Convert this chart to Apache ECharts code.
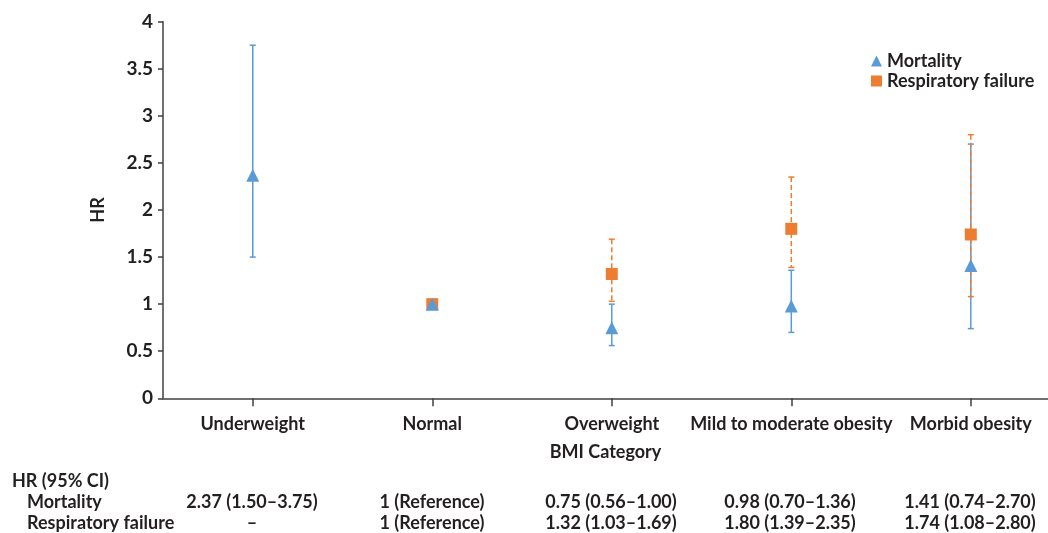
<!DOCTYPE html>
<html>
<head>
<meta charset="utf-8">
<script src="https://cdn.jsdelivr.net/npm/echarts@6/dist/echarts.min.js"></script>
<style>
  html, body { margin: 0; padding: 0; background: #fff; }
  #main { width: 1048px; height: 533px; }
</style>
</head>
<body>
<div id="main"></div>
<script>
var categories = ['Underweight', 'Normal', 'Overweight', 'Mild to moderate obesity', 'Morbid obesity'];
var mortHR   = [2.37, 1, 0.75, 0.98, 1.41];
var mortLow  = [1.50, null, 0.56, 0.70, 0.74];
var mortHigh = [3.75, null, 1.00, 1.36, 2.70];
var respHR   = [null, 1, 1.32, 1.80, 1.74];
var respLow  = [null, null, 1.03, 1.39, 1.08];
var respHigh = [null, null, 1.69, 2.35, 2.80];
var yTicks = [0, 0.5, 1, 1.5, 2, 2.5, 3, 3.5, 4];

var blue = '#5B9BD5';
var orange = '#ED7D31';
var ink = '#231F20';
var font = 'Lato';

var chart = echarts.init(document.getElementById('main'));

function points(vals) {
    var out = [];
    for (var i = 0; i < vals.length; i++) {
        if (vals[i] != null) out.push([i, vals[i]]);
    }
    return out;
}

function barData(low, high) {
    var out = [];
    for (var i = 0; i < low.length; i++) {
        if (low[i] != null) out.push([i, low[i], high[i]]);
    }
    return out;
}

function errorBar(color, dash) {
    return function (params, api) {
        var top = api.coord([api.value(0), api.value(2)]);
        var bot = api.coord([api.value(0), api.value(1)]);
        var st = { stroke: color, lineWidth: 1.5, lineDash: dash };
        var cap = { stroke: color, lineWidth: 1.5 };
        return {
            type: 'group',
            children: [
                { type: 'line', shape: { x1: top[0], y1: top[1], x2: bot[0], y2: bot[1] }, style: st },
                { type: 'line', shape: { x1: top[0] - 3, y1: top[1], x2: top[0] + 3, y2: top[1] }, style: cap },
                { type: 'line', shape: { x1: bot[0] - 3, y1: bot[1], x2: bot[0] + 3, y2: bot[1] }, style: cap }
            ]
        };
    };
}

function fmt(hr, lo, hi) {
    if (hr == null) return '–';
    if (lo == null) return hr + ' (Reference)';
    return hr.toFixed(2) + ' (' + lo.toFixed(2) + '–' + hi.toFixed(2) + ')';
}

// table under the chart
var colX = [252, 432, 611, 790, 970];
var tFont = 'bold 18px ' + font;
var tableText = [
    { type: 'text', x: 12, y: 481, style: { text: 'HR (95% CI)', font: tFont, fill: ink, verticalAlign: 'middle' } },
    { type: 'text', x: 27, y: 502, style: { text: 'Mortality', font: tFont, fill: ink, verticalAlign: 'middle' } },
    { type: 'text', x: 27, y: 523, style: { text: 'Respiratory failure', font: tFont, fill: ink, verticalAlign: 'middle' } }
];
for (var i = 0; i < categories.length; i++) {
    tableText.push({ type: 'text', x: colX[i], y: 502, style: { text: fmt(mortHR[i], mortLow[i], mortHigh[i]), font: tFont, fill: ink, align: 'center', verticalAlign: 'middle' } });
    tableText.push({ type: 'text', x: colX[i], y: 523, style: { text: fmt(respHR[i], respLow[i], respHigh[i]), font: tFont, fill: ink, align: 'center', verticalAlign: 'middle' } });
}

chart.setOption({
    backgroundColor: '#fff',
    animation: false,
    grid: { left: 163, top: 21.7, right: 0, bottom: 134.7, containLabel: false },
    legend: {
        orient: 'vertical',
        left: 866,
        top: 47,
        itemWidth: 11,
        itemHeight: 11,
        itemGap: 2,
        textStyle: { fontFamily: font, fontWeight: 'bold', fontSize: 18, color: ink },
        data: [
            { name: 'Mortality', icon: 'triangle' },
            { name: 'Respiratory failure', icon: 'rect' }
        ]
    },
    xAxis: {
        type: 'value',
        min: -0.5,
        max: 4.43,
        name: 'BMI Category',
        nameLocation: 'middle',
        nameGap: 45,
        nameTextStyle: { fontFamily: font, fontWeight: 'bold', fontSize: 18, color: ink, verticalAlign: 'top' },
        axisLine: { show: true, onZero: false, lineStyle: { color: '#404040', width: 1.5 } },
        axisTick: { show: true, customValues: [0, 1, 2, 3, 4], length: 8, lineStyle: { color: '#404040', width: 1.5 } },
        axisLabel: {
            customValues: [0, 1, 2, 3, 4],
            margin: 17,
            fontFamily: font, fontWeight: 'bold', fontSize: 18, color: ink,
            formatter: function (v) { return categories[Math.round(v)]; }
        },
        splitLine: { show: false }
    },
    yAxis: {
        type: 'value',
        min: yTicks[0],
        max: yTicks[yTicks.length - 1],
        interval: 0.5,
        name: 'HR',
        nameLocation: 'middle',
        nameRotate: 90,
        nameGap: 56,
        nameTextStyle: { fontFamily: font, fontWeight: 'bold', fontSize: 18, color: ink },
        axisLine: { show: true, onZero: false, lineStyle: { color: '#404040', width: 1.5 } },
        axisTick: { show: true, length: 5, lineStyle: { color: '#404040', width: 1.5 } },
        axisLabel: { margin: 10, fontFamily: font, fontWeight: 'bold', fontSize: 19, color: ink },
        splitLine: { show: false }
    },
    graphic: tableText,
    series: [
        {
            type: 'custom',
            name: 'mortCI',
            renderItem: errorBar(blue, null),
            encode: { x: 0, y: [1, 2] },
            data: barData(mortLow, mortHigh),
            z: 1
        },
        {
            type: 'custom',
            name: 'respCI',
            renderItem: errorBar(orange, [5, 3]),
            encode: { x: 0, y: [1, 2] },
            data: barData(respLow, respHigh),
            z: 2
        },
        {
            type: 'scatter',
            name: 'Respiratory failure',
            symbol: 'rect',
            symbolSize: 12,
            itemStyle: { color: orange, opacity: 1 },
            data: points(respHR),
            z: 3
        },
        {
            type: 'scatter',
            name: 'Mortality',
            symbol: 'triangle',
            symbolSize: 13,
            itemStyle: { color: blue, opacity: 1 },
            data: points(mortHR),
            z: 4
        }
    ]
});
</script>
</body>
</html>
